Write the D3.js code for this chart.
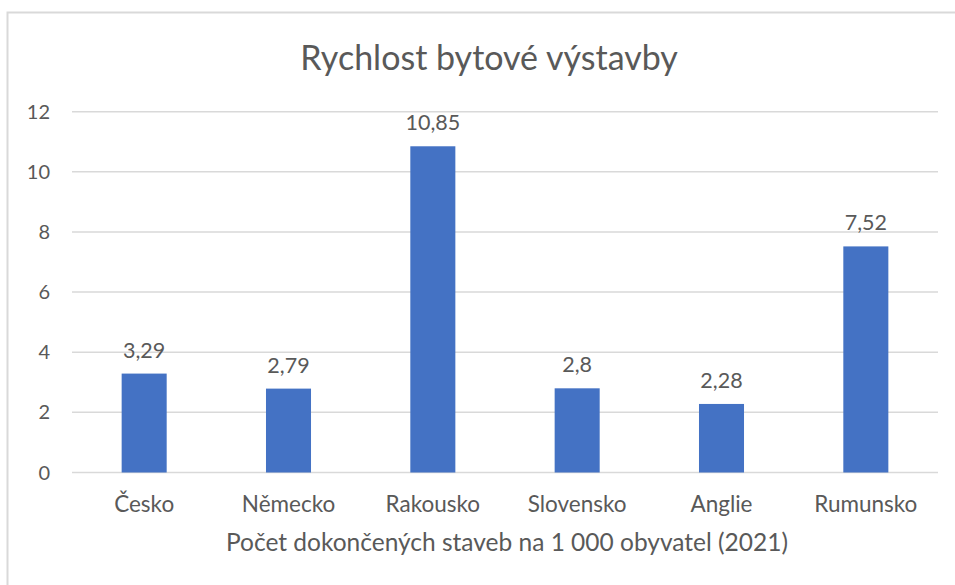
<!DOCTYPE html>
<html>
<head>
<meta charset="utf-8">
<script src="https://cdn.jsdelivr.net/npm/d3@7"></script>
<style>
  body { margin: 0; background: #fff; }
  text { font-family: Lato, "Open Sans", sans-serif; fill: #595959; }
</style>
</head>
<body>
<div id="chart"></div>
<script>
// chart data
const countries = ["Česko", "Německo", "Rakousko", "Slovensko", "Anglie", "Rumunsko"];
const values = [3.29, 2.79, 10.85, 2.8, 2.28, 7.52];
const yTicks = [0, 2, 4, 6, 8, 10, 12];

const WIDTH = 955;
const HEIGHT = 585;
const BAR_COLOR = "#4472C4";
const GRID_COLOR = "#d9d9d9";

const svg = d3.select("#chart").append("svg")
    .attr("width", WIDTH)
    .attr("height", HEIGHT);

// chart area frame (runs off the right/bottom edge)
svg.append("rect")
    .attr("x", 7.5)
    .attr("y", 12.5)
    .attr("width", WIDTH + 20)
    .attr("height", HEIGHT + 20)
    .attr("fill", "none")
    .attr("stroke", GRID_COLOR)
    .attr("stroke-width", 2);

const x = d3.scaleBand()
    .domain(countries)
    .range([72, 938])
    .paddingInner(0.688)
    .paddingOuter(0.344);

const y = d3.scaleLinear()
    .domain([0, 12])
    .range([472.5, 111.7]);

// title
svg.append("text")
    .attr("x", 489)
    .attr("y", 70)
    .attr("text-anchor", "middle")
    .style("font-size", "34px")
    .text("Rychlost bytové výstavby");

// gridlines + y labels
svg.selectAll("line.grid")
    .data(yTicks)
    .enter()
    .append("line")
    .attr("class", "grid")
    .attr("x1", 72)
    .attr("x2", 938)
    .attr("y1", d => y(d))
    .attr("y2", d => y(d))
    .attr("stroke", GRID_COLOR)
    .attr("stroke-width", 1.5);

svg.selectAll("text.ytick")
    .data(yTicks)
    .enter()
    .append("text")
    .attr("class", "ytick")
    .attr("x", 50)
    .attr("y", d => y(d))
    .attr("dy", "0.35em")
    .attr("text-anchor", "end")
    .style("font-size", "20px")
    .text(d => d);

// bars
svg.selectAll("rect.bar")
    .data(values)
    .enter()
    .append("rect")
    .attr("class", "bar")
    .attr("x", (d, i) => x(countries[i]))
    .attr("y", d => y(d))
    .attr("width", x.bandwidth())
    .attr("height", d => y(0) - y(d))
    .attr("fill", BAR_COLOR);

// value labels
svg.selectAll("text.val")
    .data(values)
    .enter()
    .append("text")
    .attr("class", "val")
    .attr("x", (d, i) => x(countries[i]) + x.bandwidth() / 2)
    .attr("y", d => y(d) - 16)
    .attr("text-anchor", "middle")
    .style("font-size", "21.5px")
    .text(d => String(d).replace(".", ","));

// category labels
svg.selectAll("text.cat")
    .data(countries)
    .enter()
    .append("text")
    .attr("class", "cat")
    .attr("x", d => x(d) + x.bandwidth() / 2)
    .attr("y", 512)
    .attr("text-anchor", "middle")
    .style("font-size", "22.5px")
    .text(d => d);

// x axis title
svg.append("text")
    .attr("x", 507)
    .attr("y", 551)
    .attr("text-anchor", "middle")
    .style("font-size", "24.5px")
    .text("Počet dokončených staveb na 1 000 obyvatel (2021)");
</script>
</body>
</html>
